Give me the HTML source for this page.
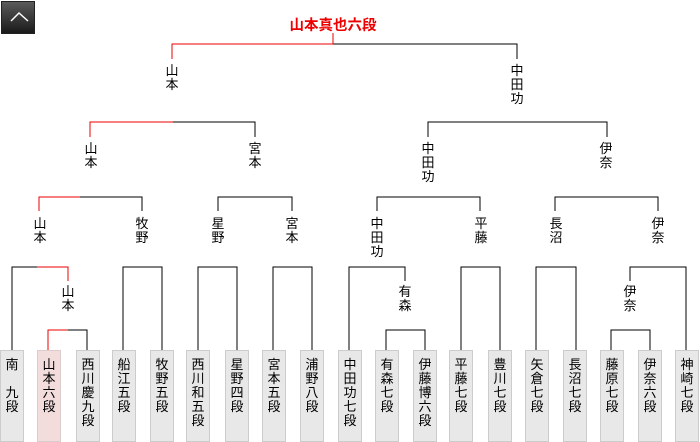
<!DOCTYPE html>
<html><head><meta charset="utf-8"><style>
body{margin:0;width:700px;height:440px;background:#fff;position:relative;overflow:hidden;font-family:"Liberation Sans","Noto Sans CJK JP",sans-serif;}
.btn{position:absolute;left:1px;top:1px;width:34px;height:33px;background:linear-gradient(#5a5a5a,#1a1a1a);border:1px solid #222;box-sizing:border-box;}
.lbl{position:absolute;width:20px;margin-left:-10px;text-align:center;font-size:13px;line-height:14px;color:#000;}
.box{position:absolute;top:350px;width:24px;height:92px;background:#e8e8e8;border:1px solid #ccc;box-sizing:border-box;text-align:center;font-size:13px;line-height:14px;padding-top:7px;}
.box.w{background:#f3dcdc;border-color:#dcc;}
.champ{position:absolute;left:233px;width:200px;top:14px;text-align:center;color:#e00;font-weight:bold;font-size:14.5px;}
</style></head><body>
<div class="btn"><svg width="34" height="33" style="position:absolute;left:-1px;top:-1px"><polyline points="10,20 18,12 27,20" fill="none" stroke="#fff" stroke-width="1.5"/></svg></div>
<div class="champ">山本真也六段</div>
<svg width="700" height="440" style="position:absolute;left:0;top:0" shape-rendering="crispEdges">
<g stroke="#000" stroke-width="1" fill="none">
<polyline points="333,44 517,44 517,59"/>
<polyline points="173,122 255,122 255,137"/>
<polyline points="428,137 428,122 607,122 607,137"/>
<polyline points="80,197 142,197 142,211"/>
<polyline points="218,211 218,197 292,197 292,211"/>
<polyline points="377,211 377,197 480,197 480,211"/>
<polyline points="555,211 555,197 658,197 658,211"/>
<polyline points="12,350 12,267 37,267"/>
<polyline points="123,350 123,267 162,267 162,350"/>
<polyline points="198,350 198,267 237,267 237,350"/>
<polyline points="273,350 273,267 312,267 312,350"/>
<polyline points="349,350 349,267 405,267 405,281"/>
<polyline points="461,350 461,267 500,267 500,350"/>
<polyline points="536,350 536,267 576,267 576,350"/>
<polyline points="630,281 630,267 686,267 686,350"/>
<polyline points="68,330 87,330 87,350"/>
<polyline points="386,350 386,330 425,330 425,350"/>
<polyline points="611,350 611,330 650,330 650,350"/>
</g>
<g stroke="#e00" stroke-width="1" fill="none">
<polyline points="333,33 333,44 172,44 172,59"/>
<polyline points="90,137 90,122 173,122"/>
<polyline points="39,211 39,197 80,197"/>
<polyline points="37,267 68,267 68,281"/>
<polyline points="48,350 48,330 68,330"/>
</g>
</svg>
<div class="lbl" style="left:172px;top:64px">山<br>本</div>
<div class="lbl" style="left:517px;top:64px">中<br>田<br>功</div>
<div class="lbl" style="left:91px;top:142px">山<br>本</div>
<div class="lbl" style="left:255px;top:142px">宮<br>本</div>
<div class="lbl" style="left:428px;top:142px">中<br>田<br>功</div>
<div class="lbl" style="left:606px;top:142px">伊<br>奈</div>
<div class="lbl" style="left:40px;top:217px">山<br>本</div>
<div class="lbl" style="left:142px;top:217px">牧<br>野</div>
<div class="lbl" style="left:218px;top:217px">星<br>野</div>
<div class="lbl" style="left:292px;top:217px">宮<br>本</div>
<div class="lbl" style="left:377px;top:217px">中<br>田<br>功</div>
<div class="lbl" style="left:481px;top:217px">平<br>藤</div>
<div class="lbl" style="left:556px;top:217px">長<br>沼</div>
<div class="lbl" style="left:658px;top:217px">伊<br>奈</div>
<div class="lbl" style="left:68px;top:285px">山<br>本</div>
<div class="lbl" style="left:405px;top:285px">有<br>森</div>
<div class="lbl" style="left:630px;top:285px">伊<br>奈</div>
<div class="box" style="left:0px">南<br>&nbsp;<br>九<br>段</div>
<div class="box w" style="left:37px">山<br>本<br>六<br>段</div>
<div class="box" style="left:76px">西<br>川<br>慶<br>九<br>段</div>
<div class="box" style="left:112px">船<br>江<br>五<br>段</div>
<div class="box" style="left:150px">牧<br>野<br>五<br>段</div>
<div class="box" style="left:186px">西<br>川<br>和<br>五<br>段</div>
<div class="box" style="left:225px">星<br>野<br>四<br>段</div>
<div class="box" style="left:262px">宮<br>本<br>五<br>段</div>
<div class="box" style="left:300px">浦<br>野<br>八<br>段</div>
<div class="box" style="left:338px">中<br>田<br>功<br>七<br>段</div>
<div class="box" style="left:375px">有<br>森<br>七<br>段</div>
<div class="box" style="left:413px">伊<br>藤<br>博<br>六<br>段</div>
<div class="box" style="left:449px">平<br>藤<br>七<br>段</div>
<div class="box" style="left:488px">豊<br>川<br>七<br>段</div>
<div class="box" style="left:525px">矢<br>倉<br>七<br>段</div>
<div class="box" style="left:563px">長<br>沼<br>七<br>段</div>
<div class="box" style="left:600px">藤<br>原<br>七<br>段</div>
<div class="box" style="left:638px">伊<br>奈<br>六<br>段</div>
<div class="box" style="left:675px">神<br>崎<br>七<br>段</div>
</body></html>
